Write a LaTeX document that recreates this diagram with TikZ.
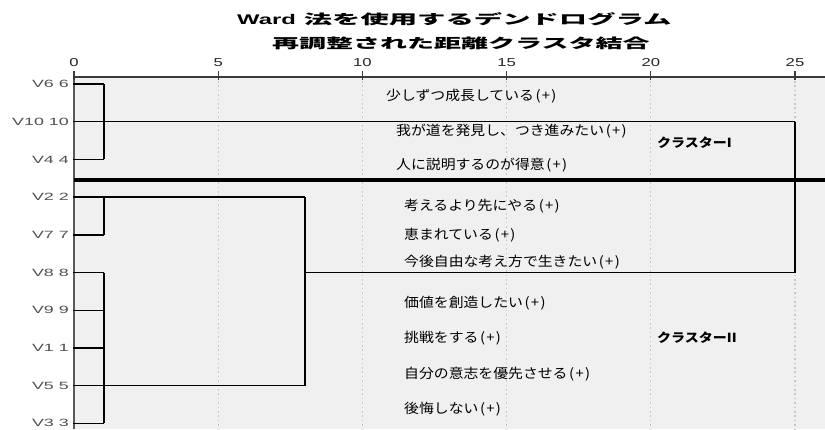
\documentclass[tikz,border=0pt]{standalone}
\usepackage{fontspec}
\usepackage{graphicx}
\setmainfont{Liberation Sans}
\newfontfamily\cjk{Noto Sans CJK JP}
\definecolor{plotbg}{HTML}{F0F0F0}
\definecolor{gridc}{HTML}{C6C6C6}
\definecolor{vlab}{HTML}{505050}
\definecolor{axisc}{HTML}{3A3A3A}
\newcommand{\plusmark}{\hspace{1.5pt}(\hspace{1.2pt}+\hspace{1.2pt})}
\begin{document}
\begin{tikzpicture}[x=1pt,y=-1pt,
  vlabel/.style={anchor=east,inner sep=0pt,text=vlab,font=\fontsize{10.5}{12}\selectfont},
  ticklab/.style={anchor=center,inner sep=0pt,text=black!85,font=\fontsize{11.5}{13}\selectfont},
  itemlab/.style={anchor=west,inner sep=0pt,font=\cjk\fontsize{13.5}{15}\selectfont},
  clulab/.style={anchor=west,inner sep=0pt,font=\cjk\bfseries\fontsize{12.5}{14}\selectfont},
  hline/.style={line width=1.4pt,black,line cap=square},
  vline/.style={line width=2.4pt,black,line cap=square},
  gridline/.style={gridc,line width=1.2pt,dash pattern=on 1.6pt off 2.8pt},
  tickmark/.style={axisc,line width=1.2pt}
]
\useasboundingbox (0,0) rectangle (825,429);
\fill[white] (0,0) rectangle (825,429);
% plot area
\fill[plotbg] (74,77) rectangle (825,429);
% grid
\foreach \gx in {218.2,362.4,506.6,650.8,795}{
  \draw[gridline] (\gx,81) -- (\gx,429);
}
% axis
\coordinate (ax0) at (74,77);
\coordinate (ax1) at (825,77);
\draw[axisc,line width=1.3pt] (ax0) -- (ax1);
\draw[black!65,line width=1.8pt] (74,77) -- (74,429);
\foreach \v/\gx in {0/74,5/218.2,10/362.4,15/506.6,20/650.8,25/795}{
  \draw[tickmark] (\gx,71) -- (\gx,80);
  \node[ticklab] (t\v) at (\gx,62.5) {\scalebox{1.45}[1]{\v}};
}
% titles
\node[anchor=west,inner sep=0pt] (title) at (237,19)
  {\bfseries\fontsize{14}{16}\selectfont\scalebox{1.7}[1]{Ward}\hspace{8pt}\scalebox{2.1}[1]{\cjk\fontsize{13.5}{15}\selectfont 法を使用するデンドログラム}};
\node[anchor=west,inner sep=0pt] (subtitle) at (272,43)
  {\scalebox{2.0}[1]{\cjk\bfseries\fontsize{13.5}{15}\selectfont 再調整された距離クラスタ結合}};
% leaf labels
\node[vlabel] (n6) at (69,84) {\scalebox{1.7}[1]{V6 6}};
\node[vlabel] (n10) at (69,121.7) {\scalebox{1.7}[1]{V10 10}};
\node[vlabel] (n4) at (69,159.4) {\scalebox{1.7}[1]{V4 4}};
\node[vlabel] (n2) at (69,197.1) {\scalebox{1.7}[1]{V2 2}};
\node[vlabel] (n7) at (69,234.8) {\scalebox{1.7}[1]{V7 7}};
\node[vlabel] (n8) at (69,272.5) {\scalebox{1.7}[1]{V8 8}};
\node[vlabel] (n9) at (69,310.2) {\scalebox{1.7}[1]{V9 9}};
\node[vlabel] (n1) at (69,347.9) {\scalebox{1.7}[1]{V1 1}};
\node[vlabel] (n5) at (69,385.6) {\scalebox{1.7}[1]{V5 5}};
\node[vlabel] (n3) at (69,423.3) {\scalebox{1.7}[1]{V3 3}};
% dendrogram coordinates
\coordinate (l6) at (73,84);
\coordinate (l10) at (73,121.7);
\coordinate (l4) at (73,159.4);
\coordinate (l2) at (73,197.1);
\coordinate (l7) at (73,234.8);
\coordinate (l8) at (73,272.5);
\coordinate (l9) at (73,310.2);
\coordinate (l1) at (73,347.9);
\coordinate (l5) at (73,385.6);
\coordinate (l3) at (73,423.3);
\coordinate (a6) at (104,84);
\coordinate (a4) at (104,159.4);
\coordinate (a2) at (104,197.1);
\coordinate (a7) at (104,234.8);
\coordinate (a8) at (104,272.5);
\coordinate (a9) at (104,310.2);
\coordinate (a1) at (104,347.9);
\coordinate (a3) at (104,423.3);
\coordinate (b2) at (305,197.1);
\coordinate (b5) at (305,385.6);
\coordinate (b8) at (305,272.5);
\coordinate (c10) at (795,121.7);
\coordinate (c8) at (795,272.5);
% horizontals
\draw[hline] (l6) -- (a6);
\draw[hline] (l10) -- (c10);
\draw[hline] (l4) -- (a4);
\draw[hline] (l2) -- (b2);
\draw[hline] (l7) -- (a7);
\draw[hline] (l8) -- (a8);
\draw[hline] (l9) -- (a9);
\draw[hline] (l1) -- (a1);
\draw[hline] (l5) -- (b5);
\draw[hline] (l3) -- (a3);
\draw[hline] (b8) -- (c8);
% verticals
\draw[vline] (a6) -- (a4);
\draw[vline] (a2) -- (a7);
\draw[vline] (a8) -- (a3);
\draw[vline] (b2) -- (b5);
\draw[vline] (c10) -- (c8);
% separator
\coordinate (s0) at (74,179.5);
\coordinate (s1) at (825,179.5);
\draw[black,line width=4pt] (s0) -- (s1);
% item labels
\node[itemlab] (i1) at (386,96) {\scalebox{1.1}[1]{少しずつ成長している\plusmark}};
\node[itemlab] (i2) at (396,131) {\scalebox{1.1}[1]{我が道を発見し、つき進みたい\plusmark}};
\node[itemlab] (i3) at (396,165) {\scalebox{1.1}[1]{人に説明するのが得意\plusmark}};
\node[itemlab] (i4) at (404,206) {\scalebox{1.1}[1]{考えるより先にやる\plusmark}};
\node[itemlab] (i5) at (404,235.5) {\scalebox{1.1}[1]{恵まれている\plusmark}};
\node[itemlab] (i6) at (404,262) {\scalebox{1.1}[1]{今後自由な考え方で生きたい\plusmark}};
\node[itemlab] (i7) at (404,303) {\scalebox{1.1}[1]{価値を創造したい\plusmark}};
\node[itemlab] (i8) at (404,338) {\scalebox{1.1}[1]{挑戦をする\plusmark}};
\node[itemlab] (i9) at (404,374) {\scalebox{1.1}[1]{自分の意志を優先させる\plusmark}};
\node[itemlab] (i10) at (404,409) {\scalebox{1.1}[1]{後悔しない\plusmark}};
\node[clulab] (k1) at (657,143) {\scalebox{1.12}[1]{クラスターI}};
\node[clulab] (k2) at (657,338) {\scalebox{1.12}[1]{クラスターII}};
\end{tikzpicture}
\end{document}
